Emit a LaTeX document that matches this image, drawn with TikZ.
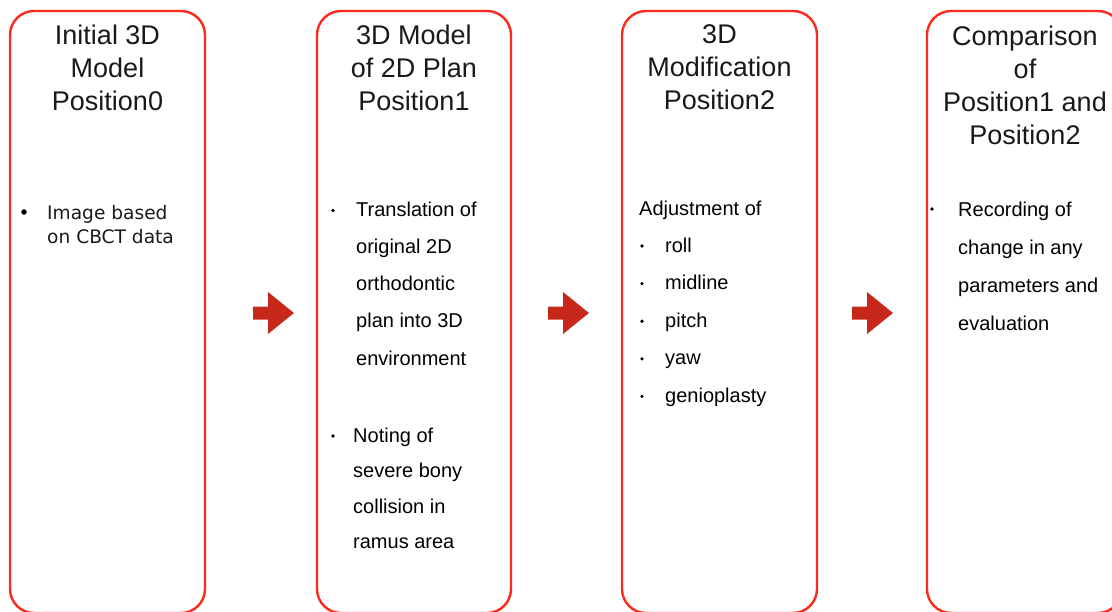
\documentclass[tikz,border=0pt]{standalone}
\usepackage{fontspec}
\setmainfont{Liberation Sans}
\newfontfamily\neue{DejaVu Sans}
\definecolor{boxred}{RGB}{252,42,28}
\definecolor{arrowred}{RGB}{200,40,26}
\definecolor{ink}{RGB}{25,25,25}

\begin{document}
\begin{tikzpicture}[x=1pt,y=-1pt,
  stage/.style={draw=boxred, line width=2.4pt, rounded corners=24pt,
    minimum width=195pt, minimum height=602pt, inner sep=0pt},
  heading/.style={anchor=north, align=center, inner sep=0pt, text=ink,
    font=\fontsize{27}{33}\selectfont},
  item/.style={anchor=north west, align=left, inner sep=0pt, text=black,
    font=\fontsize{20}{37.5}\selectfont},
  dot/.style={circle, fill=black, inner sep=0pt, minimum size=3.6pt},
  bigdot/.style={circle, fill=black, inner sep=0pt, minimum size=5.5pt},
  flow/.style={fill=arrowred},
  pics/rightarrow/.style={code={
    \fill[flow] (0,-6.5) -- (15,-6.5) -- (15,-21) -- (41,0) -- (15,21)
      -- (15,6.5) -- (0,6.5) -- cycle;}}
]
\useasboundingbox (0,0) rectangle (1112,611);
\clip (0,0) rectangle (1112,611);

% the four stage panels
\node[stage] (s0) at (107.5,312) {};
\node[stage, minimum width=194pt] (s1) at (414,312) {};
\node[stage] (s2) at (719.5,312) {};
\node[stage] (s3) at (1024.5,312) {};

% headings
\node[heading] (h0) at (107.5,24.5) {Initial 3D\\Model\\Position0};
\node[heading] (h1) at (414,24.5) {3D Model\\of 2D Plan\\Position1};
\node[heading] (h2) at (719.5,24.5) {3D\\Modification\\Position2};
\node[heading] (h3) at (1025,25.5) {Comparison\\of\\Position1 and\\Position2};

% stage 0 content
\node[bigdot] (d0) at (24,212) {};
\node[item, text=ink, font=\neue\fontsize{18.6}{24}\selectfont] (t0) at (47,204.8)
  {Image based\\on CBCT data};

% stage 1 content
\node[dot] (d1a) at (333,210.5) {};
\node[item, font=\fontsize{20}{37.3}\selectfont] (t1a) at (356,201.4)
  {Translation of\\original 2D\\orthodontic\\plan into 3D\\environment};
\node[dot] (d1b) at (333,436) {};
\node[item, font=\fontsize{20}{35.5}\selectfont] (t1b) at (353,427.5)
  {Noting of\\severe bony\\collision in\\ramus area};

% stage 2 content
\node[item] (t2) at (639,200.5) {Adjustment of};
\node[item, font=\fontsize{20}{37.6}\selectfont] (t2l) at (665,237.4)
  {roll\\midline\\pitch\\yaw\\genioplasty};
\foreach \y [count=\i] in {246,283.6,321.2,358.8,396.4}
  \node[dot] (d2\i) at (642,\y) {};

% stage 3 content
\node[dot] (d3) at (932,209) {};
\node[item, font=\fontsize{20}{38}\selectfont] (t3) at (958,201.4)
  {Recording of\\change in any\\parameters and\\evaluation};

% transition arrows
\pic (a1) at (253,313) {rightarrow};
\pic (a2) at (548,313) {rightarrow};
\pic (a3) at (852,313) {rightarrow};
\end{tikzpicture}
\end{document}
